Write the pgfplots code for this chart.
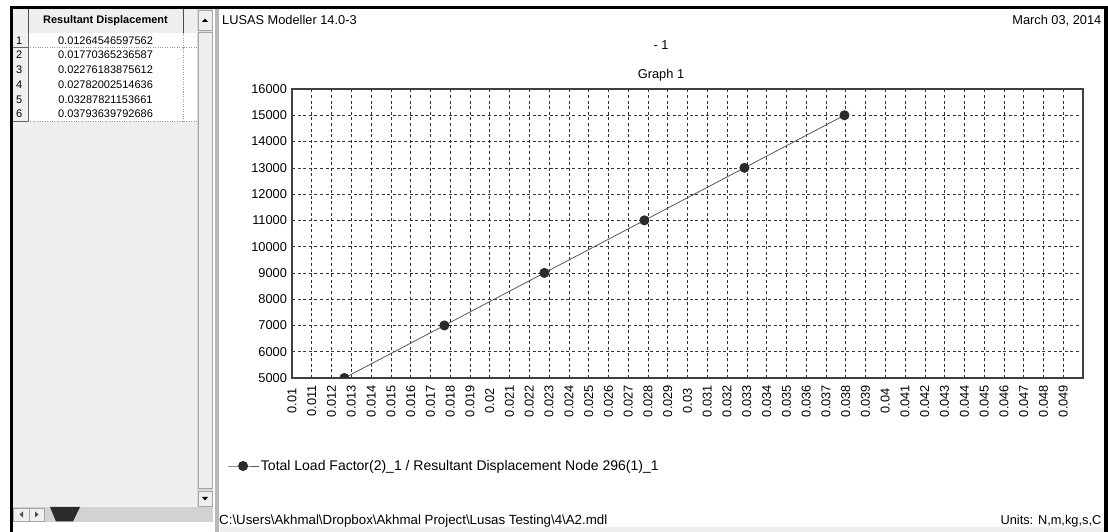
\documentclass[border=0pt]{standalone}
\usepackage{fontspec}
\setmainfont{Liberation Sans}
\usepackage{pgfplots}
\usepackage{pgfplotstable}
\pgfplotsset{compat=1.18}

\definecolor{panelgray}{HTML}{EFEFEF}
\definecolor{trackgray}{HTML}{D2D2D2}
\definecolor{markgray}{HTML}{2B2B2B}

\newcommand\uifont{\fontsize{12.8}{15}\selectfont}
\newcommand\pathfont{\fontsize{13.3}{15}\selectfont}
\newcommand\legfont{\fontsize{14}{16}\selectfont}
\newcommand\tblfont{\fontsize{11}{13}\selectfont}

% load factor against resultant displacement, node 296
\pgfplotstableread{
disp load
0.01264546597562 5000
0.01770365236587 7000
0.02276183875612 9000
0.02782002514636 11000
0.03287821153661 13000
0.03793639792686 15000
}\curvedata

\begin{document}
\begin{tikzpicture}[x=1pt,y=1pt]
% window background and frame
\fill[white] (0,0) rectangle (1108,532);
\fill[white] (220,5) rectangle (1103.5,523);
\fill[panelgray] (220,0) rectangle (1103.5,5);
\fill[black] (10,523) rectangle (1108,525.5);
\fill[black] (10,0) rectangle (12.5,525.5);
\fill[black] (1103.5,0) rectangle (1108,525.5);
% splitter between table and graph
\fill[gray!55] (215,0) rectangle (218.5,523);

% ---- table panel ----
\fill[panelgray] (12.5,25) rectangle (197,523);
% header
\fill[panelgray] (12.5,499) rectangle (197,523);
\node[anchor=base, font=\tblfont\bfseries, inner sep=0pt] at (105.5,508) {Resultant Displacement};
\draw[black!70] (12.5,499) -- (197,499);
\draw[black!70] (28,499) -- (28,523);
\draw[black!70] (183,499) -- (183,523);
% rows
\foreach \i/\v in {1/0.01264546597562,2/0.01770365236587,3/0.02276183875612,
                   4/0.02782002514636,5/0.03287821153661,6/0.03793639792686}{
  \pgfmathsetmacro\rtop{499-(\i-1)*14.7}
  \pgfmathsetmacro\rbot{\rtop-14.7}
  \fill[panelgray] (12.5,\rbot) rectangle (28,\rtop);
  \fill[white] (28,\rbot) rectangle (197,\rtop);
  \draw[gray!80, dotted] (28,\rbot) -- (197,\rbot);
  \draw[black!60] (12.5,\rbot) -- (28,\rbot);
  \draw[gray!80, dotted] (183,\rbot) -- (183,\rtop);
  \node[anchor=base west, font=\tblfont, inner sep=0pt] at (16,\rbot+3.45) {\i};
  \node[anchor=base, font=\tblfont, inner sep=0pt] at (105.5,\rbot+3.45) {\v};
}
\draw[black!60] (28,410.8) -- (28,499);
% vertical scrollbar
\fill[panelgray!80!gray] (197,25) rectangle (213,523);
\filldraw[fill=panelgray, draw=gray!70] (198,44) rectangle (212,500);
\filldraw[fill=panelgray, draw=gray!70] (198,502) rectangle (212,522);
\filldraw[fill=panelgray, draw=gray!70] (198,26) rectangle (212,41);
\fill[black] (202,510) -- (208,510) -- (205,513.5) -- cycle;
\fill[black] (202,35) -- (208,35) -- (205,31.5) -- cycle;
% horizontal scrollbar
\fill[trackgray] (12.5,10) rectangle (213,25);
\filldraw[fill=panelgray, draw=gray!70] (13.5,11) rectangle (29,24);
\filldraw[fill=panelgray, draw=gray!70] (29,11) rectangle (44.5,24);
\fill[black!70] (23,14.5) -- (23,20.5) -- (19.5,17.5) -- cycle;
\fill[black!70] (35,14.5) -- (35,20.5) -- (38.5,17.5) -- cycle;
\fill[markgray] (50,25) -- (80,25) -- (73,10.5) -- (56,10.5) -- cycle;

% ---- graph window texts ----
\node[anchor=base west, font=\uifont, inner sep=0pt] at (222,507) {LUSAS Modeller 14.0-3};
\node[anchor=base east, font=\uifont, inner sep=0pt] at (1101.5,507) {March 03, 2014};
\node[anchor=base, font=\uifont, inner sep=0pt] at (661,482.5) {- 1};
\node[anchor=base, font=\uifont, inner sep=0pt] at (661,453.5) {Graph 1};
\node[anchor=base west, font=\pathfont, inner sep=0pt] at (219,7.5) {C:\textbackslash Users\textbackslash Akhmal\textbackslash Dropbox\textbackslash Akhmal Project\textbackslash Lusas Testing\textbackslash 4\textbackslash A2.mdl};
\node[anchor=base east, font=\uifont, inner sep=0pt] at (1101.5,7.5) {Units: N,m,kg,s,C};

\begin{axis}[
  at={(292pt,154pt)}, anchor=south west,
  scale only axis, width=791pt, height=289pt,
  xmin=0.01, xmax=0.05, ymin=5000, ymax=16000,
  scaled ticks=false,
  axis line style={black!75, line width=1.1pt},
  major tick length=0pt,
  xtick={0.010,0.011,0.012,0.013,0.014,0.015,0.016,0.017,0.018,0.019,
         0.020,0.021,0.022,0.023,0.024,0.025,0.026,0.027,0.028,0.029,
         0.030,0.031,0.032,0.033,0.034,0.035,0.036,0.037,0.038,0.039,
         0.040,0.041,0.042,0.043,0.044,0.045,0.046,0.047,0.048,0.049},
  xticklabels={0.01,0.011,0.012,0.013,0.014,0.015,0.016,0.017,0.018,0.019,
         0.02,0.021,0.022,0.023,0.024,0.025,0.026,0.027,0.028,0.029,
         0.03,0.031,0.032,0.033,0.034,0.035,0.036,0.037,0.038,0.039,
         0.04,0.041,0.042,0.043,0.044,0.045,0.046,0.047,0.048,0.049},
  ytick={5000,6000,7000,8000,9000,10000,11000,12000,13000,14000,15000,16000},
  yticklabels={5000,6000,7000,8000,9000,10000,11000,12000,13000,14000,15000,16000},
  tick label style={font=\uifont},
  xticklabel style={yshift=-23pt, rotate=90, anchor=center},
  yticklabel style={xshift=-1.5pt},
  grid=major,
  major grid style={black!80, line width=0.6pt, dash pattern=on 3pt off 2.6pt},
  clip marker paths=true,
  legend style={at={(-0.0822,-0.3045)}, anchor=west, draw=none, fill=none,
                font=\legfont, inner sep=0pt},
  legend cell align=left,
  legend image code/.code={\draw[mark repeat=2,mark phase=2,#1]
      plot coordinates {(0pt,0pt) (15.5pt,0pt) (31pt,0pt)};},
]
\addplot[black!65, line width=0.8pt, mark=*, mark size=4.6pt,
         mark options={solid, fill=markgray, draw=markgray}]
  table[x=disp, y=load] {\curvedata};
\addlegendentry{Total Load Factor(2)\_1 / Resultant Displacement Node 296(1)\_1}
\end{axis}
\pgfresetboundingbox
\useasboundingbox (0,0) rectangle (1108,532);
\end{tikzpicture}
\end{document}
